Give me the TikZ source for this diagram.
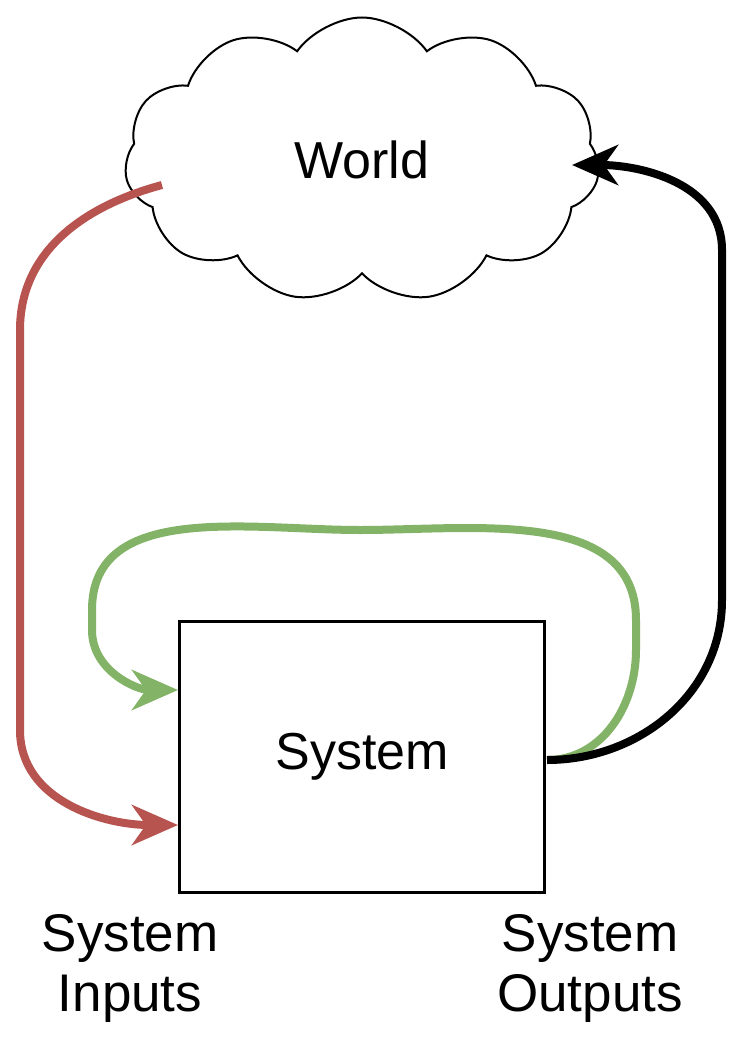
\documentclass[tikz,border=0pt]{standalone}
\usepackage{fontspec}
\setmainfont{Liberation Sans}
\usetikzlibrary{shapes.symbols,arrows.meta}
\begin{document}
\begin{tikzpicture}[x=1pt,y=-1pt,
  conn/.style={line width=8pt,-{Stealth[length=46pt,width=40pt,inset=14pt]}},
  lbl/.style={font=\fontsize{53}{60}\selectfont,align=center}]
\useasboundingbox (0,0) rectangle (748,1046);
\node[cloud,draw,line width=2pt,cloud puffs=11,cloud puff arc=110,aspect=1.6,minimum width=475pt,minimum height=285pt,font=\fontsize{52}{60}\selectfont] (world) at (362,160) {World};
\node[draw,line width=3pt,minimum width=365pt,minimum height=271pt,font=\fontsize{52}{60}\selectfont] (sys) at (362,757) {System};
\coordinate (rs) at (162,185);
\coordinate (ri) at (178,825);
\coordinate (gi) at (178,690);
\coordinate (bo) at (547,760);
\coordinate (bi) at (572,165);
\draw[conn,color={rgb,255:red,184;green,84;blue,80}] (rs) to[out=195,in=90] (20,330) -- (20,730) to[out=-90,in=180] (ri);
\draw[conn,color={rgb,255:red,130;green,179;blue,102}] (bo) to[out=0,in=-90] (636,650) -- (636,620) to[out=90,in=0] (360,530) to[out=180,in=90] (92,610) -- (92,630) to[out=-90,in=180] (gi);
\draw[conn,black] (bo) to[out=0,in=-90] (722,600) -- (722,250) to[out=90,in=0] (bi);
\node[lbl] (inl) at (130,968) {System\\Inputs};
\node[lbl] (outl) at (590,968) {System\\Outputs};
\end{tikzpicture}
\end{document}
